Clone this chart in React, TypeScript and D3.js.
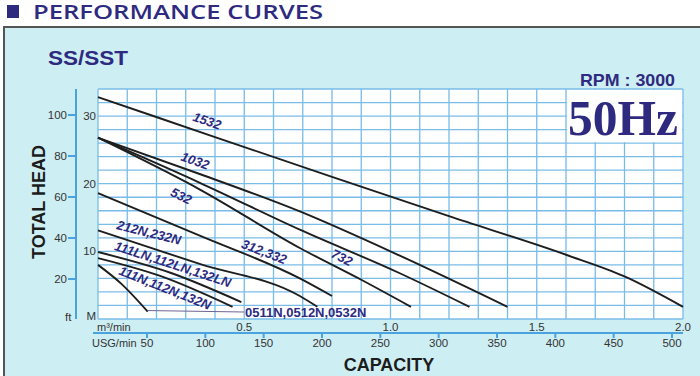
import React from 'react';
import * as d3 from 'd3';

// ---- data ----
const meterTicks = [0, 10, 20, 30];
const meterTickLabels = ['M', '10', '20', '30'];
const feetTicks = [20, 40, 60, 80, 100];
const m3Ticks = [0.5, 1.0, 1.5, 2.0];
const m3TickLabels = ['0.5', '1.0', '1.5', '2.0'];
const usgTicks = [50, 100, 150, 200, 250, 300, 350, 400, 450, 500];

// [capacity m3/min, head m]
const curve1532: [number, number][] = [[0, 32.8], [0.4, 26.9], [0.8, 21.0], [1.2, 15.2], [1.6, 9.5], [1.8, 6.3], [2.0, 1.8]];
const curve1032: [number, number][] = [[0, 26.8], [0.35, 21.4], [0.69, 15.9], [1.03, 9.4], [1.4, 1.8]];
const curve732: [number, number][] = [[0, 26.8], [0.35, 20.1], [0.69, 13.2], [1.03, 6.8], [1.27, 1.8]];
const curve532: [number, number][] = [[0, 26.8], [0.35, 19.1], [0.69, 10.5], [0.9, 5.8], [1.07, 1.8]];
const curve312: [number, number][] = [[0, 18.6], [0.35, 12.3], [0.69, 6.0], [0.8, 3.4]];
const curve212N: [number, number][] = [[0, 13.1], [0.35, 8.1], [0.69, 3.4], [0.75, 1.8]];
const curve111LN: [number, number][] = [[0, 9.9], [0.25, 6.8], [0.49, 2.5]];
const curve111N: [number, number][] = [[0, 9.0], [0.21, 6.4], [0.46, 1.8]];
const curve0511N: [number, number][] = [[0, 8.0], [0.08, 5.2], [0.17, 1.1]];

const seriesNames = ['1532', '1032', '732', '532', '312,332', '212N,232N', '111LN,112LN,132LN', '111N,112N,132N', '0511N,0512N,0532N'];
const seriesCurves = [curve1532, curve1032, curve732, curve532, curve312, curve212N, curve111LN, curve111N, curve0511N];

// ---- layout (label placement, in data coords) ----
const labelAnchors: { q: number; h: number; angle: number }[] = [
  { q: 0.373, h: 29.3, angle: 19 },
  { q: 0.332, h: 23.4, angle: 19 },
  { q: 0.834, h: 9.1, angle: 26 },
  { q: 0.285, h: 18.2, angle: 26 },
  { q: 0.568, h: 9.95, angle: 21 },
  { q: 0.174, h: 12.8, angle: 14 },
  { q: 0.256, h: 8.1, angle: 18 },
  { q: 0.229, h: 4.6, angle: 21.5 },
];

const NAVY = '#2d2a80';
const GRID = '#78bce8';
const AXIS = '#4aa2de';
const BG = '#cdeef3';
const FONT = '"Liberation Sans", Arial, sans-serif';

export default function App() {
  const x = d3.scaleLinear().domain([0, 2]).range([98, 683]);
  const y = d3.scaleLinear().domain([0, 34]).range([319, 89]);
  const ft = d3.scaleLinear().domain([20, 100]).range([279, 115]);
  const usg = d3.scaleLinear().domain([50, 500]).range([147, 672]);

  const line = d3
    .line<[number, number]>()
    .x((d) => x(d[0]))
    .y((d) => y(d[1]))
    .curve(d3.curveMonotoneX);

  const vGrid = d3.range(0, 2.0001, 0.1);
  const hGrid = d3.range(0, 34.001, 2);

  const endLast = curve0511N[curve0511N.length - 1];

  return (
    <svg width={700} height={376} style={{ position: 'absolute', left: 0, top: 0, display: 'block' }} fontFamily={FONT}>
      <rect x={0} y={0} width={700} height={376} fill="#ffffff" />
      {/* title */}
      <rect x={7} y={5} width={12} height={13} fill={NAVY} />
      <text x={33} y={19} fontSize={19} fontWeight={600} fill={NAVY} textLength={290} lengthAdjust="spacingAndGlyphs" fontFamily='"Open Sans", "DejaVu Sans", sans-serif'>
        PERFORMANCE CURVES
      </text>
      {/* panel */}
      <rect x={4} y={27} width={700} height={360} fill={BG} stroke="#555" strokeWidth={2} />
      <text x={48} y={65} fontSize={21} fontWeight="bold" fill={NAVY} textLength={80} lengthAdjust="spacingAndGlyphs">SS/SST</text>
      <text x={580} y={86} fontSize={17} fontWeight="bold" fill={NAVY} textLength={95} lengthAdjust="spacingAndGlyphs">RPM : 3000</text>

      {/* plot background */}
      <rect x={x(0)} y={y(34)} width={x(2) - x(0)} height={y(0) - y(34)} fill="#ffffff" />
      {vGrid.map((v, i) => (
        <line key={'v' + i} x1={x(v)} x2={x(v)} y1={y(0)} y2={y(34)} stroke={GRID} strokeWidth={1.3} />
      ))}
      {hGrid.map((v, i) => (
        <line key={'h' + i} x1={x(0)} x2={x(2)} y1={y(v)} y2={y(v)} stroke={GRID} strokeWidth={1.3} />
      ))}
      {/* 50Hz box */}
      <rect x={x(1.6) + 1} y={y(34) + 1} width={x(2) - x(1.6) - 2} height={y(26) - y(34) - 2} fill="#ffffff" />
      <text x={568} y={135} fontSize={51} fontWeight="bold" fill={NAVY} textLength={110} lengthAdjust="spacingAndGlyphs" fontFamily='"Liberation Serif", "Times New Roman", serif'>50Hz</text>

      {/* curves */}
      {seriesCurves.map((c, i) => (
        <path key={'c' + i} d={line(c) || ''} fill="none" stroke="#1e1e1e" strokeWidth={1.9} />
      ))}
      {/* leader for small pump label */}
      <line x1={x(endLast[0])} y1={y(endLast[1]) - 1} x2={244} y2={312} stroke="#6e6596" strokeWidth={1} />

      {labelAnchors.map((a, i) => (
        <text
          key={'l' + i}
          transform={`translate(${x(a.q)},${y(a.h)}) rotate(${a.angle})`}
          textAnchor="middle"
          dy="0.35em"
          fontSize={13}
          fontWeight="bold"
          fontStyle="italic"
          fill={NAVY}
        >
          {seriesNames[i]}
        </text>
      ))}
      <text x={245} y={317} fontSize={13} fontWeight="bold" fill={NAVY}>{seriesNames[8]}</text>

      {/* meter axis labels */}
      {meterTicks.map((m, i) => (
        <text key={'m' + i} x={96} y={y(m) - (m === 0 ? 3 : 0)} dy="0.35em" textAnchor="end" fontSize={11.5} fill="#333">
          {meterTickLabels[i]}
        </text>
      ))}
      {/* feet axis */}
      <line x1={76} x2={76} y1={y(34)} y2={y(0)} stroke={AXIS} strokeWidth={2} />
      {feetTicks.map((f, i) => (
        <g key={'f' + i}>
          <line x1={68} x2={76} y1={ft(f)} y2={ft(f)} stroke={AXIS} strokeWidth={2} />
          <text x={67} y={ft(f)} dy="0.35em" textAnchor="end" fontSize={11.5} fill="#333">{f}</text>
        </g>
      ))}
      <text x={65} y={321} fontSize={11.5} fill="#333">ft</text>

      {/* bottom axes */}
      <text x={97} y={331} fontSize={11} fill="#333">m³/min</text>
      {m3Ticks.map((v, i) => (
        <text key={'q' + i} x={x(v)} y={331} textAnchor="middle" fontSize={11.5} fill="#333">{m3TickLabels[i]}</text>
      ))}
      <line x1={93} x2={x(2)} y1={333} y2={333} stroke={AXIS} strokeWidth={2} />
      {usgTicks.map((v, i) => (
        <g key={'u' + i}>
          <line x1={usg(v)} x2={usg(v)} y1={333} y2={338} stroke={AXIS} strokeWidth={2} />
          <text x={usg(v)} y={347} textAnchor="middle" fontSize={11.5} fill="#333">{v}</text>
        </g>
      ))}
      <text x={92} y={347} fontSize={11} fill="#333">USG/min</text>

      <text x={389} y={371} textAnchor="middle" fontSize={18} fontWeight="bold" fill="#1c1c1c">CAPACITY</text>
      <text transform="translate(45,202) rotate(-90)" textAnchor="middle" fontSize={18} fontWeight="bold" fill="#1c1c1c">TOTAL HEAD</text>
    </svg>
  );
}
